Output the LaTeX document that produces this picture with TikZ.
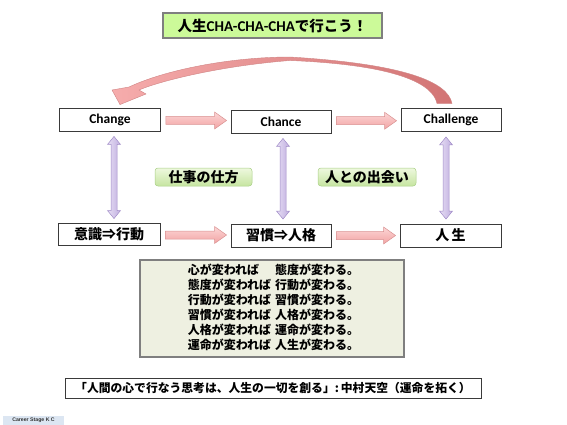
\documentclass[tikz,border=0pt]{standalone}
\usepackage{fontspec}
\newfontfamily\jp{Noto Sans CJK JP}
\newfontfamily\lat{Carlito}
\newfontfamily\arial{Liberation Sans}
\usetikzlibrary{calc}
\definecolor{boxline}{HTML}{3A3A3A}
\definecolor{titlefill}{HTML}{CCFA99}
\definecolor{titleline}{HTML}{7F7F7F}
\definecolor{pinkA}{HTML}{FCD6D6}
\definecolor{pinkB}{HTML}{F2A3A3}
\definecolor{pinkline}{HTML}{D99292}
\definecolor{curveA}{HTML}{F6ACAC}
\definecolor{curveB}{HTML}{D27474}
\definecolor{curveline}{HTML}{CF8484}
\definecolor{lavA}{HTML}{E6DEF4}
\definecolor{lavB}{HTML}{BFAEDF}
\definecolor{lavline}{HTML}{A08BC7}
\definecolor{greenA}{HTML}{EEF8DF}
\definecolor{greenB}{HTML}{C6E5A0}
\definecolor{greenline}{HTML}{A9CF86}
\definecolor{quotefill}{HTML}{EEF0E1}
\definecolor{careerfill}{HTML}{DCE6F2}
\begin{document}
\begin{tikzpicture}[x=1pt,y=-1pt,
  wbox/.style={draw=boxline, line width=0.9pt, fill=white, minimum width=100pt,
    minimum height=23pt, inner sep=0pt, font=\jp\bfseries\fontsize{14}{16}\selectfont},
  latbox/.style={wbox, font=\lat\bfseries\fontsize{13.5}{15}\selectfont},
  glabel/.style={draw=greenline, line width=0.5pt, rounded corners=3pt, top color=greenA,
    bottom color=greenB, minimum width=97pt, minimum height=18pt, inner sep=0pt,
    font=\jp\bfseries\fontsize{14}{16}\selectfont},
  pinkarrow/.style={draw=pinkline, line width=0.5pt, top color=pinkA, bottom color=pinkB},
  lavarrow/.style={draw=lavline, line width=0.5pt, left color=lavA, right color=lavB},
]
\useasboundingbox (0,0) rectangle (567,425);

% title
\node[draw=titleline, line width=1.3pt, fill=titlefill, minimum width=219pt, minimum height=25pt,
  inner sep=0pt] (title) at (272.5,25.5)
  {{\jp\bfseries\fontsize{14.5}{16}\selectfont 人生}{\lat\bfseries\fontsize{15}{16}\selectfont CHA-CHA-CHA}{\jp\bfseries\fontsize{14.5}{16}\selectfont で行こう！}};

% top row
\node[latbox, minimum width=101pt] (change) at (110,119.5) {Change};
\node[latbox] (chance) at (281,121.5) {Chance};
\node[latbox] (challenge) at (451,120) {Challenge};

% bottom row
\node[wbox, minimum width=102pt, minimum height=22pt] (ishiki) at (109,234.5) {意識⇒行動};
\node[wbox] (shukan) at (281,235.5) {習慣⇒人格};
\node[wbox, minimum width=101pt] (jinsei) at (450.5,235.5) {人\,生};

% green labels
\node[glabel] (shigoto) at (203.5,177) {仕事の仕方};
\node[glabel, minimum width=98pt] (deai) at (367,177) {人との出会い};

% horizontal pink arrows
\foreach \a/\b in {change/chance, chance/challenge, ishiki/shukan, shukan/jinsei}{
  \draw[pinkarrow] let \p1=($(\a.east)+(5,0)$), \p2=($(\b.west)+(-4,0)$),
     \p3=($(\a.east)!0.5!(\b.west)$) in
     (\x1,\y3+4pt) -- (\x2-12pt,\y3+4pt) -- (\x2-12pt,\y3+8.5pt) -- (\x2,\y3)
     -- (\x2-12pt,\y3-8.5pt) -- (\x2-12pt,\y3-4pt) -- (\x1,\y3-4pt) -- cycle;
}

% vertical lavender double arrows
\foreach \a/\b/\dx in {change/ishiki/4, chance/shukan/2, challenge/jinsei/-5}{
  \draw[lavarrow] let \p1=($(\a.south)+(\dx,5)$), \p2=($(\b.north)+(\dx,-4.5)$) in
     (\x1,\y1) -- (\x1+6.5pt,\y1-8pt) -- (\x1+3pt,\y1-8pt) -- (\x1+3pt,\y2+8pt)
     -- (\x1+6.5pt,\y2+8pt) -- (\x1,\y2) -- (\x1-6.5pt,\y2+8pt) -- (\x1-3pt,\y2+8pt)
     -- (\x1-3pt,\y1-8pt) -- (\x1-6.5pt,\y1-8pt) -- cycle;
}

% curved arrow from Challenge back to Change
\coordinate (ct1) at ($(challenge.north)+(1,-4.5)$);
\coordinate (ct2) at ($(challenge.north)+(-14,-4.5)$);
\coordinate (ch) at ($(change.north)+(10,-3)$);
\draw[draw=curveline, line width=0.4pt, left color=curveA, right color=curveB]
  (ct1) .. controls (448,82) and (405,64) .. (290,57)
  .. controls (230,57) and (165,70) .. (129,87)
  -- (112,90) -- (ch) -- (146,94) -- (139,90)
  .. controls (160,81) and (220,66) .. (290,60.5)
  .. controls (398,65) and (433,84) .. (ct2) -- cycle;

% quote box
\node[draw=titleline, line width=1.2pt, fill=quotefill, minimum width=264pt, minimum height=97pt,
  inner sep=0pt] (quote) at (272,308.5) {};
\node[font=\jp\bfseries\fontsize{12}{14.4}\selectfont, inner sep=0pt] (quotetext) at (273.5,309)
  {\begin{tabular}{@{}l@{\hspace{4pt}}l@{}}
   心が変われば & 態度が変わる。\\
   態度が変われば & 行動が変わる。\\
   行動が変われば & 習慣が変わる。\\
   習慣が変われば & 人格が変わる。\\
   人格が変われば & 運命が変わる。\\
   運命が変われば & 人生が変わる。
   \end{tabular}};

% bottom quote
\node[draw=boxline, line width=0.9pt, fill=white, minimum width=416pt, minimum height=20pt,
  inner sep=0pt, font=\jp\bfseries\fontsize{11.8}{14}\selectfont] (nakamura) at (273,388)
  {「人間の心で行なう思考は、人生の一切を創る」:\,中村天空（運命を拓く）};

% footer
\node[fill=careerfill, minimum width=61pt, minimum height=9pt, inner sep=0pt,
  font=\arial\bfseries\fontsize{5.2}{6}\selectfont, text=black!80] (career) at (33.5,420.5)
  {Career Stage K C};
\end{tikzpicture}
\end{document}
